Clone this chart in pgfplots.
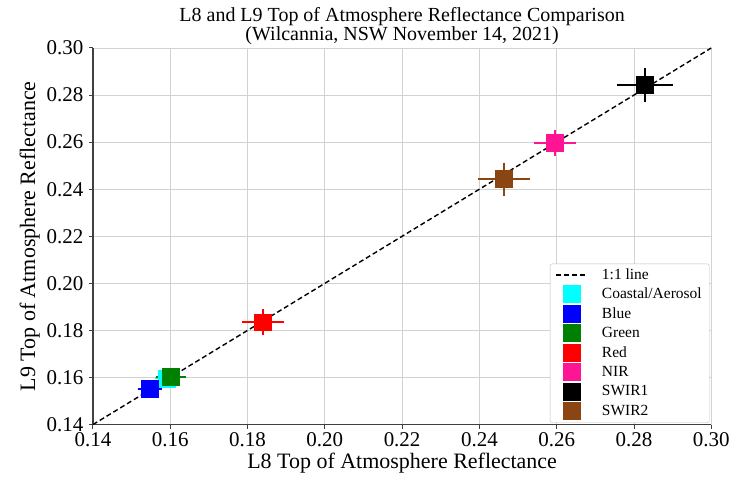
\documentclass[border=0pt]{standalone}
\usepackage{pgfplots}
\pgfplotsset{compat=1.18}
\usepackage{fontspec}
\setmainfont{Liberation Serif}

\definecolor{aqua}{RGB}{0,255,255}
\definecolor{nirpink}{RGB}{255,20,147}
\definecolor{swirbrown}{RGB}{139,69,19}
\definecolor{dgreen}{RGB}{0,128,0}

\pgfplotsset{
  markleg/.style={legend image code/.code={\draw[##1] plot coordinates {(15.5pt,0pt)};}},
  lineleg/.style={legend image code/.code={\draw[##1] (0pt,0pt) -- (31pt,0pt);}},
  band/.style={
    only marks, mark=square*, mark size=8.5pt,
    draw=#1, fill=#1, mark options={draw=#1, fill=#1}, markleg,
    error bars/.cd, x dir=both, x explicit, y dir=both, y explicit,
    error mark=none, error bar style={line width=2pt, #1}
  }
}

\begin{document}
\begin{tikzpicture}
\begin{axis}[
    scale only axis,
    width=619pt, height=377pt,
    xmin=0.14, xmax=0.30, ymin=0.14, ymax=0.30,
    xtick={0.14,0.16,...,0.301}, ytick={0.14,0.16,...,0.301},
    /pgf/number format/.cd, fixed, fixed zerofill, precision=2, assume math mode=true,
    /pgfplots/.cd,
    axis lines=left,
    axis line style={-, line width=1.3pt, black!75},
    tick align=outside, major tick length=4pt,
    tick style={black!75, line width=1pt},
    grid=major, grid style={gray!35, line width=0.9pt},
    tick label style={font=\fontsize{21}{24}\selectfont},
    yticklabel style={xshift=-2pt},
    xlabel={L8 Top of Atmosphere Reflectance},
    ylabel={L9 Top of Atmosphere Reflectance},
    label style={font=\fontsize{22}{25}\selectfont},
    title={L8 and L9 Top of Atmosphere Reflectance Comparison\\(Wilcannia, NSW November 14, 2021)},
    title style={font=\fontsize{20}{18.5}\selectfont, align=center, yshift=-6pt},
    legend style={at={(rel axis cs:0.997,0.005)}, anchor=south east,
      draw=gray!50, rounded corners=2pt, font=\fontsize{15.5}{19}\selectfont,
      row sep=2.5pt, inner xsep=5.5pt, inner ysep=3pt,
      /tikz/every odd column/.append style={column sep=12pt}},
    legend cell align=left,
]
\addplot[black, dashed, line width=1.4pt, dash pattern=on 5pt off 3pt, lineleg]
  coordinates {(0.14,0.14) (0.30,0.30)};
\addlegendentry{1:1 line}
\addplot[band=aqua] coordinates {(0.159,0.1597) +- (0.003,0.003)};
\addlegendentry{Coastal/Aerosol}
\addplot[band=blue] coordinates {(0.1548,0.1552) +- (0.0032,0.003)};
\addlegendentry{Blue}
\addplot[band=dgreen] coordinates {(0.1602,0.1602) +- (0.004,0.004)};
\addlegendentry{Green}
\addplot[band=red] coordinates {(0.1840,0.1835) +- (0.0055,0.0054)};
\addlegendentry{Red}
\addplot[band=nirpink] coordinates {(0.2596,0.2596) +- (0.0055,0.0055)};
\addlegendentry{NIR}
\addplot[band=black] coordinates {(0.2828,0.2843) +- (0.0072,0.0073)};
\addlegendentry{SWIR1}
\addplot[band=swirbrown] coordinates {(0.2464,0.2443) +- (0.0067,0.007)};
\addlegendentry{SWIR2}
\end{axis}
\path (current axis.south west) ++(-93pt,-49pt);
\path (current axis.north east) ++(21pt,48pt);
\end{tikzpicture}
\end{document}
